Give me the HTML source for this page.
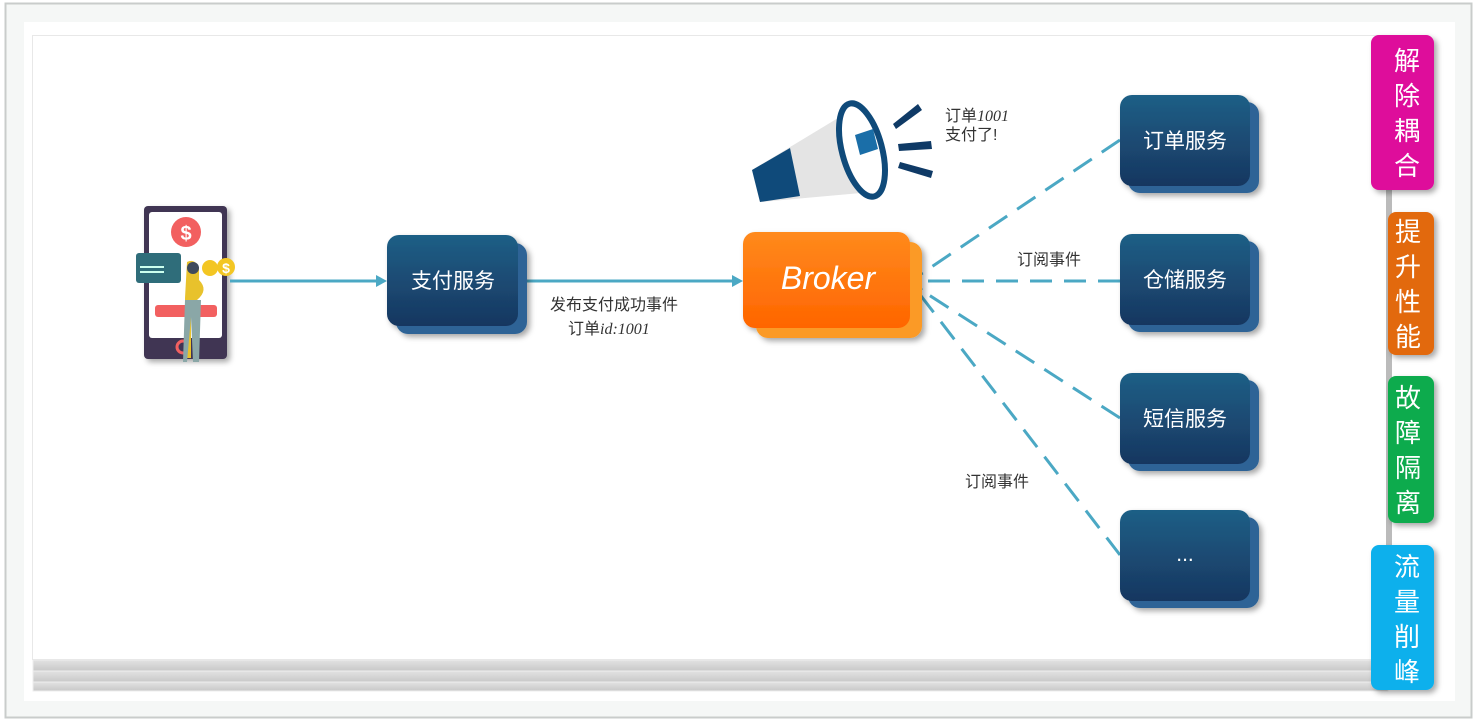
<!DOCTYPE html>
<html><head><meta charset="utf-8"><style>
html,body{margin:0;padding:0;width:1477px;height:720px;overflow:hidden;background:#fff}
svg text{font-family:"Liberation Sans","Noto Sans CJK SC",sans-serif}
</style></head><body>
<svg width="1477" height="720" viewBox="0 0 1477 720" xmlns="http://www.w3.org/2000/svg">
<defs>
<linearGradient id="bl" x1="0" y1="0" x2="0" y2="1"><stop offset="0" stop-color="#1f5f86"/><stop offset="1" stop-color="#173660"/></linearGradient>
<linearGradient id="or" x1="0" y1="0" x2="0" y2="1"><stop offset="0" stop-color="#ff8a1c"/><stop offset="1" stop-color="#ff6500"/></linearGradient>
<linearGradient id="sh" x1="0" y1="0" x2="0" y2="1"><stop offset="0" stop-color="#e2e2e2"/><stop offset="1" stop-color="#c8c8c8"/></linearGradient>
<filter id="ds" x="-20%" y="-20%" width="150%" height="150%"><feDropShadow dx="3" dy="3" stdDeviation="3" flood-opacity="0.35"/></filter>
</defs>
<rect x="0" y="0" width="1477" height="720" fill="#fff"/>
<rect x="5.5" y="3.5" width="1466" height="714" fill="#f5f7f6" stroke="#c9cccb" stroke-width="2"/>
<rect x="24" y="22" width="1431" height="679" fill="#fff"/>
<!-- stacked pages -->
<rect x="33" y="660" width="1355" height="11" fill="url(#sh)" stroke="#eee"/>
<rect x="33" y="671" width="1355" height="11" fill="url(#sh)" stroke="#eee"/>
<rect x="33" y="682" width="1355" height="9" fill="url(#sh)" stroke="#eee"/>
<rect x="32.5" y="35.5" width="1355" height="624" fill="#fff" stroke="#e8e8e8"/>
<rect x="1386" y="190" width="6" height="500" fill="#bbb"/>

<!-- tabs -->
<g filter="url(#ds)">
<rect x="1371" y="35" width="63" height="155" rx="8" fill="#de0d9b"/>
<rect x="1388" y="212" width="46" height="143" rx="8" fill="#e2690f"/>
<rect x="1388" y="376" width="46" height="147" rx="8" fill="#0bab4e"/>
<rect x="1371" y="545" width="63" height="145" rx="8" fill="#0bb0ec"/>
</g>
<g fill="#fff" font-size="26" text-anchor="middle">
<text x="1407" y="70">解</text><text x="1407" y="105">除</text><text x="1407" y="140">耦</text><text x="1407" y="175">合</text>
<text x="1408" y="241">提</text><text x="1408" y="276">升</text><text x="1408" y="311">性</text><text x="1408" y="346">能</text>
<text x="1408" y="407">故</text><text x="1408" y="442">障</text><text x="1408" y="477">隔</text><text x="1408" y="512">离</text>
<text x="1407" y="576">流</text><text x="1407" y="611">量</text><text x="1407" y="646">削</text><text x="1407" y="681">峰</text>
</g>

<!-- phone -->
<rect x="144" y="206" width="83" height="153" rx="4" fill="#3f3552" filter="url(#ds)"/>
<rect x="149" y="212" width="73" height="126" rx="3" fill="#fff"/>
<circle cx="186" cy="232" r="15" fill="#f26060"/>
<text x="186" y="240" fill="#fff" font-size="20" text-anchor="middle" font-weight="bold">$</text>
<rect x="136" y="253" width="45" height="30" rx="3" fill="#2f6d7a"/>
<rect x="140" y="266" width="24" height="2" fill="#cfe"/><rect x="140" y="271" width="24" height="2" fill="#cfe"/>
<rect x="155" y="305" width="62" height="12" rx="3" fill="#f26060"/>
<circle cx="183" cy="347" r="6" fill="none" stroke="#f26060" stroke-width="3"/>
<path d="M187 262 q8 -4 12 6 l0 12 q10 10 -2 20 l-6 0 l0 58 l-6 0 l0 -60 z" fill="#e8c22c"/>
<path d="M185 300 l16 0 l-2 62 l-6 0 l-2 -45 l-4 45 l-4 0 z" fill="#8aa7a7"/>
<circle cx="193" cy="268" r="6" fill="#3f4a5c"/>
<circle cx="210" cy="268" r="8" fill="#f3c623"/><circle cx="226" cy="267" r="9" fill="#f3c623"/>
<text x="226" y="273" fill="#fff" font-size="14" text-anchor="middle" font-weight="bold">$</text>

<!-- arrows -->
<g stroke="#4ba8c4" stroke-width="3" fill="none">
<line x1="230" y1="281" x2="378" y2="281"/>
<line x1="518" y1="281" x2="734" y2="281"/>
</g>
<g fill="#4ba8c4"><path d="M387 281 l-11 -6 l0 12z"/><path d="M743 281 l-11 -6 l0 12z"/></g>
<g stroke="#4ba8c4" stroke-width="3" fill="none" stroke-dasharray="22 12">
<line x1="1120" y1="140" x2="918" y2="276"/>
<line x1="1120" y1="281" x2="918" y2="281"/>
<line x1="1120" y1="418" x2="918" y2="288"/>
<line x1="1120" y1="555" x2="918" y2="292"/>
</g>
<path d="M909 281 l14 -9 l-4 9 l4 9z" fill="#4ba8c4"/>

<!-- boxes -->
<g filter="url(#ds)">
<rect x="396" y="243" width="131" height="91" rx="12" fill="#2e6496"/>
<rect x="387" y="235" width="131" height="91" rx="12" fill="url(#bl)"/>
<rect x="756" y="242" width="166" height="96" rx="12" fill="#fb9a25"/>
<rect x="743" y="232" width="167" height="96" rx="12" fill="url(#or)"/>
<rect x="1128" y="102" width="131" height="91" rx="12" fill="#2e6496"/>
<rect x="1120" y="95" width="130" height="91" rx="12" fill="url(#bl)"/>
<rect x="1128" y="241" width="131" height="91" rx="12" fill="#2e6496"/>
<rect x="1120" y="234" width="130" height="91" rx="12" fill="url(#bl)"/>
<rect x="1128" y="380" width="131" height="91" rx="12" fill="#2e6496"/>
<rect x="1120" y="373" width="130" height="91" rx="12" fill="url(#bl)"/>
<rect x="1128" y="517" width="131" height="91" rx="12" fill="#2e6496"/>
<rect x="1120" y="510" width="130" height="91" rx="12" fill="url(#bl)"/>
</g>
<g fill="#fff" font-size="21" text-anchor="middle">
<text x="453" y="288">支付服务</text>
<text x="1185" y="148">订单服务</text>
<text x="1185" y="287">仓储服务</text>
<text x="1185" y="426">短信服务</text>
<text x="1185" y="561">...</text>
</g>
<text x="828" y="289" fill="#fff" font-size="32" font-style="italic" text-anchor="middle" font-family="Liberation Serif,serif">Broker</text>

<!-- megaphone -->
<path d="M752 170 L848 112 L872 192 L760 202 Z" fill="#e4e4e4"/>
<path d="M752 170 L790 148 L800 196 L760 202 Z" fill="#0f4a7a"/>
<ellipse cx="862" cy="150" rx="20" ry="48" fill="#fff" stroke="#0f4a7a" stroke-width="6" transform="rotate(-15 862 150)"/>
<path d="M855 135 l18 -6 l5 20 l-18 6z" fill="#1a6ea8"/>
<g fill="#0f3a66"><path d="M893 124 l25 -20 l4 6 l-26 19z"/><path d="M898 144 l33 -3 l1 8 l-33 2z"/><path d="M900 162 l33 9 l-2 7 l-33 -10z"/></g>

<g fill="#333" font-size="16">
<text x="945" y="121">订单<tspan font-style="italic" font-family="Liberation Serif,serif">1001</tspan></text>
<text x="945" y="140">支付了!</text>
<text x="550" y="310">发布支付成功事件</text>
<text x="568" y="334">订单<tspan font-style="italic" font-family="Liberation Serif,serif">id:1001</tspan></text>
<text x="1017" y="265">订阅事件</text>
<text x="965" y="487">订阅事件</text>
</g>
</svg>
</body></html>
